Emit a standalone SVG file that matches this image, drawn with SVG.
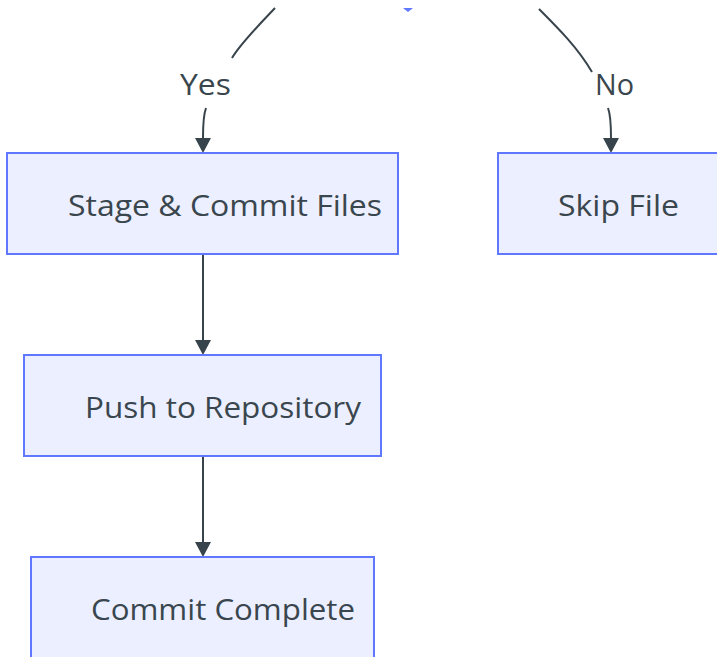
<svg xmlns="http://www.w3.org/2000/svg" width="717" height="657" viewBox="0 0 717 657">
  <defs>
    <style>
      .box { fill: #ecefff; stroke: #6078ff; stroke-width: 2; }
      .lbl { font-family: "Open Sans", "Noto Sans", sans-serif; font-size: 29px; fill: #3a464e; }
      .edge { fill: none; stroke: #38444c; stroke-width: 2; }
      .head { fill: #38444c; }
    </style>
  </defs>
  <rect width="717" height="657" fill="#ffffff"/>

  <!-- bottom tip of the decision node -->
  <g id="decision">
    <polygon points="403,8 413,8 408,12" fill="#6078ff"/>
  </g>

  <g id="connectors">
    <!-- Yes branch -->
    <path class="edge" d="M275,8 C258,26 240,44 232,58"/>
    <path class="edge" d="M206,108 C203,116 203,126 203,138"/>
    <polygon class="head" points="195,138 211,138 203,153"/>
    <!-- No branch -->
    <path class="edge" d="M539,9 C558,28 578,48 592,72"/>
    <path class="edge" d="M608,108 C611,116 611,126 611,138"/>
    <polygon class="head" points="603,138 619,138 611,153"/>
    <!-- Stage -> Push -->
    <line class="edge" x1="203" y1="254" x2="203" y2="340"/>
    <polygon class="head" points="195,340 211,340 203,355"/>
    <!-- Push -> Complete -->
    <line class="edge" x1="203" y1="456" x2="203" y2="542"/>
    <polygon class="head" points="195,542 211,542 203,557"/>
    <text class="lbl" x="180" y="95" textLength="51" lengthAdjust="spacingAndGlyphs">Yes</text>
    <text class="lbl" x="595" y="95" textLength="39" lengthAdjust="spacingAndGlyphs">No</text>
  </g>

  <g id="stage">
    <rect class="box" x="7" y="153" width="391" height="101"/>
    <text class="lbl" x="68" y="216" textLength="314" lengthAdjust="spacingAndGlyphs">Stage &amp; Commit Files</text>
  </g>
  <g id="skip">
    <rect class="box" x="498" y="153" width="230" height="101"/>
    <text class="lbl" x="558" y="216" textLength="121" lengthAdjust="spacingAndGlyphs">Skip File</text>
  </g>
  <g id="push">
    <rect class="box" x="24" y="355" width="357" height="101"/>
    <text class="lbl" x="85" y="418" textLength="276" lengthAdjust="spacingAndGlyphs">Push to Repository</text>
  </g>
  <g id="complete">
    <rect class="box" x="31" y="557" width="343" height="120"/>
    <text class="lbl" x="91" y="620" textLength="264" lengthAdjust="spacingAndGlyphs">Commit Complete</text>
  </g>
</svg>
